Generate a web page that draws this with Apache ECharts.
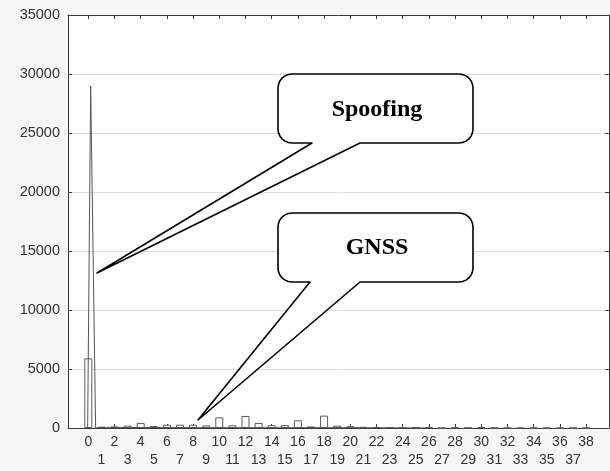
<!DOCTYPE html>
<html>
<head>
<meta charset="utf-8">
<script src="https://cdn.jsdelivr.net/npm/echarts@6/dist/echarts.min.js"></script>
<style>
  html, body { margin: 0; padding: 0; background: #f6f6f6; }
  #chart { width: 610px; height: 471px; }
</style>
</head>
<body>
<div id="chart"></div>
<script>
// tick labels on the bottom axis (bins 0..38)
var xTicks = [0, 1, 2, 3, 4, 5, 6, 7, 8, 9, 10, 11, 12, 13, 14, 15, 16, 17, 18, 19,
  20, 21, 22, 23, 24, 25, 26, 27, 28, 29, 30, 31, 32, 33, 34, 35, 36, 37, 38];

// GNSS histogram, one count per bin
var gnssCounts = [5900, 100, 120, 200, 430, 170, 280, 280, 280, 220,
  900, 230, 1020, 430, 240, 240, 650, 130, 1050, 200,
  150, 100, 80, 60, 60, 50, 40, 0, 30, 20,
  80, 10, 0, 0, 0, 0, 0, 0, 0];

// Spoofing polygon (narrow spike at bin 0, nearly flat afterwards)
var spoofX = [-0.05, 0.18, 0.56, 1, 2, 3, 5, 8, 12, 16, 20, 26];
var spoofY = [0, 29000, 0, 60, 60, 40, 40, 30, 30, 30, 30, 0];

var chart = echarts.init(document.getElementById('chart'));

// even labels on the first row, odd ones on the second
var evenTicks = xTicks.filter(function (v) { return v % 2 === 0; });
var oddTicks = xTicks.filter(function (v) { return v % 2 === 1; });

var gnssData = gnssCounts.map(function (v, i) { return [xTicks[i], v]; });
var spoofData = spoofX.map(function (x, i) { return [x, spoofY[i]]; });

// quarter circle points for a rounded corner
function corner(cx, cy, r, a0) {
  var pts = [];
  for (var k = 0; k <= 6; k++) {
    var a = (a0 + k * 15) * Math.PI / 180;
    pts.push([cx + r * Math.cos(a), cy + r * Math.sin(a)]);
  }
  return pts;
}

// callout bubble: rounded box plus a wedge going down to the tip
function bubble(x0, y0, x1, y1, r, b0, b1, tx, ty) {
  var pts = [];
  pts = pts.concat(corner(x0 + r, y0 + r, r, 180)); // top-left
  pts = pts.concat(corner(x1 - r, y0 + r, r, 270)); // top-right
  pts = pts.concat(corner(x1 - r, y1 - r, r, 0));   // bottom-right
  pts.push([b1, y1], [tx, ty], [b0, y1]);
  pts = pts.concat(corner(x0 + r, y1 - r, r, 90));  // bottom-left
  return pts;
}

var textCol = '#333';
var axisCol = '#3a3a3a';
var xMin = -1.55, xMax = 39.75;

function frameAxis(extra) {
  var ax = {
    type: 'value',
    axisLine: { show: true, onZero: false, lineStyle: { color: axisCol } },
    axisTick: { show: true, inside: true, length: 4, lineStyle: { color: axisCol } },
    axisLabel: { show: false },
    splitLine: { show: false }
  };
  for (var k in extra) ax[k] = extra[k];
  return ax;
}

function xLabelStyle(values) {
  return {
    show: true, customValues: values, margin: 7, color: textCol, fontSize: 14,
    fontFamily: 'Liberation Sans', showMinLabel: true, showMaxLabel: true, hideOverlap: false
  };
}

var option = {
  backgroundColor: '#f6f6f6',
  animation: false,
  grid: {
    left: 68, right: 1, top: 15, bottom: 43,
    show: true, backgroundColor: '#fff', borderWidth: 0
  },
  xAxis: [
    frameAxis({
      min: xMin, max: xMax, position: 'bottom',
      axisTick: { show: true, inside: true, length: 4, customValues: evenTicks, lineStyle: { color: axisCol } },
      axisLabel: xLabelStyle(evenTicks)
    }),
    frameAxis({
      min: xMin, max: xMax, position: 'top',
      axisTick: { show: true, inside: true, length: 4, customValues: evenTicks, lineStyle: { color: axisCol } }
    }),
    // second row of labels
    frameAxis({
      min: xMin, max: xMax, position: 'bottom', offset: 18,
      axisLine: { show: false },
      axisTick: { show: false },
      axisLabel: xLabelStyle(oddTicks)
    })
  ],
  yAxis: [
    frameAxis({
      min: 0, max: 35000, interval: 5000, position: 'left',
      axisLabel: {
        show: true, color: textCol, fontSize: 14.5, fontFamily: 'Liberation Sans', margin: 8,
        formatter: function (v) { return '' + v; }
      },
      splitLine: { show: true, lineStyle: { color: '#dedede', width: 1 } }
    }),
    frameAxis({
      min: 0, max: 35000, interval: 5000, position: 'right'
    })
  ],
  series: [
    {
      name: 'GNSS',
      type: 'bar',
      xAxisIndex: 0, yAxisIndex: 0,
      barWidth: 8,
      itemStyle: { color: '#fff', borderColor: '#5a5a5a', borderWidth: 1 },
      data: gnssData
    },
    {
      name: 'Spoofing',
      type: 'line',
      xAxisIndex: 0, yAxisIndex: 0,
      symbol: 'none',
      lineStyle: { color: '#555', width: 1 },
      data: spoofData
    }
  ],
  graphic: [
    {
      type: 'polygon', z: 100,
      shape: { points: bubble(278, 74, 473, 143, 14, 312, 360, 97, 273) },
      style: { fill: '#fff', stroke: '#000', lineWidth: 1.6, lineJoin: 'round' }
    },
    {
      type: 'text', z: 101, x: 377, y: 110,
      style: {
        text: 'Spoofing', fill: '#000', font: 'bold 24px "Liberation Serif"',
        align: 'center', verticalAlign: 'middle'
      }
    },
    {
      type: 'polygon', z: 100,
      shape: { points: bubble(278, 213, 473, 282, 14, 310, 360, 198, 420) },
      style: { fill: '#fff', stroke: '#000', lineWidth: 1.6, lineJoin: 'round' }
    },
    {
      type: 'text', z: 101, x: 377, y: 248,
      style: {
        text: 'GNSS', fill: '#000', font: 'bold 24px "Liberation Serif"',
        align: 'center', verticalAlign: 'middle'
      }
    }
  ]
};

chart.setOption(option);
</script>
</body>
</html>
